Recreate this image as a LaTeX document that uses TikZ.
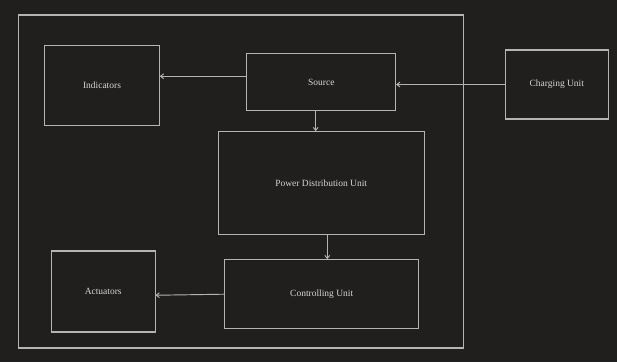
\documentclass[tikz,border=0pt]{standalone}
\usepackage{fontspec}
\setmainfont{Liberation Serif}
\usepackage{tikz}
\usetikzlibrary{arrows.meta,positioning,calc}
\definecolor{bgdark}{HTML}{201F1E}
\definecolor{edgegray}{HTML}{B4B4B4}
\definecolor{textgray}{HTML}{D6D6D6}

\begin{document}
\begin{tikzpicture}[
        x=0.03cm, y=-0.03cm,
        block/.style={rectangle, draw=edgegray, line width=0.9pt, text=textgray, text centered, font=\fontsize{8.1}{10}\selectfont, inner sep=0pt},
        arrow/.style={-{Straight Barb[length=2.6pt,width=4.2pt]}, line width=0.8pt, color=edgegray}
    ]
    
    \fill[bgdark] (0,0) rectangle (617,362);
    \useasboundingbox (0,0) rectangle (617,362);
    
    \node[block, minimum width=13.36cm, minimum height=9.99cm] (sys) at (241,181.5) {};
    \node[block, minimum width=3.44cm, minimum height=2.41cm] (ind) at (102,85.5) {Indicators};
    \node[block, minimum width=4.46cm, minimum height=1.72cm] (src) at (321.3,82) {Source};
    \node[block, minimum width=3.09cm, minimum height=2.07cm] (chg) at (556.8,84.5) {Charging Unit};
    \node[block, minimum width=6.17cm, minimum height=3.09cm] (pdu) at (321.2,183.2) {Power Distribution Unit};
    \node[block, minimum width=3.11cm, minimum height=2.43cm] (act) at (103.2,291.5) {Actuators};
    \node[block, minimum width=5.82cm, minimum height=2.07cm] (ctl) at (321.7,294.2) {Controlling Unit};
    
    \draw[arrow] ([yshift=4.9pt]src.west) -- ([yshift=4.9pt]src.west -| ind.east);
    \draw[arrow] (chg.west) -- (chg.west -| src.east);
    \draw[arrow] ([xshift=-4.8pt]src.south) -- ([xshift=-4.8pt]src.south |- pdu.north);
    \draw[arrow] ([xshift=5.2pt]pdu.south) -- ([xshift=5.2pt]pdu.south |- ctl.north);
    \draw[arrow] (ctl.west) -- ([yshift=-3.2pt]act.east);
    
    \end{tikzpicture}
\end{document}
